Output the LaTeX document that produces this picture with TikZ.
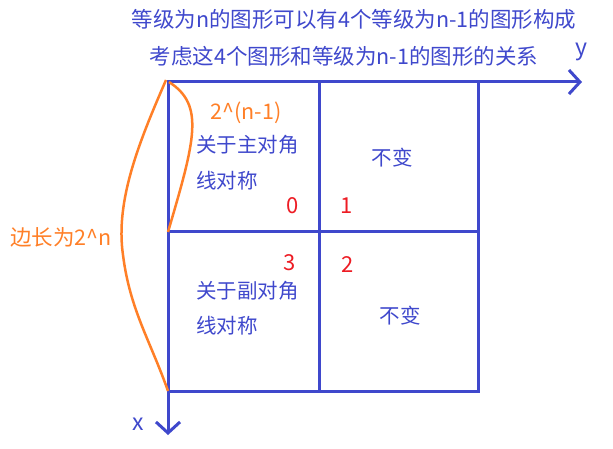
\documentclass[tikz,border=0pt]{standalone}
\usepackage{fontspec}
\setmainfont{Noto Sans CJK SC}
\usetikzlibrary{arrows.meta}
\definecolor{gblue}{RGB}{63,72,204}
\definecolor{gorange}{RGB}{255,127,39}
\definecolor{gred}{RGB}{237,28,36}
\tikzset{
  grid/.style={draw=gblue,line width=3pt},
  axis/.style={draw=gblue,line width=3pt,-{Straight Barb[length=11pt,width=24pt,line width=3pt]}},
  brace/.style={draw=gorange,line width=2.5pt},
  btxt/.style={text=gblue,font=\fontsize{20.5}{24}\selectfont,inner sep=0pt},
  otxt/.style={text=gorange,font=\fontsize{20.5}{24}\selectfont,inner sep=0pt},
  rtxt/.style={text=gred,font=\fontsize{22}{24}\selectfont,inner sep=0pt},
}
\begin{document}
\begin{tikzpicture}[x=1pt,y=-1pt]
\useasboundingbox (0,0) rectangle (613,449);
\coordinate (O) at (168,82);
\coordinate (TM) at (319,82);
\coordinate (TR) at (478,82);
\coordinate (ML) at (168,232);
\coordinate (MR) at (478,232);
\coordinate (BL) at (168,391);
\coordinate (BM) at (319,391);
\coordinate (BR) at (478,391);
\coordinate (YE) at (582,82);
\coordinate (XE) at (168,435);
% grid
\draw[grid] (O) rectangle (BR);
\draw[grid] (TM) -- (BM);
\draw[grid] (ML) -- (MR);
% axes
\draw[axis] (O) -- (YE);
\draw[axis] (O) -- (XE);
% orange curves
\coordinate (C1) at (166,80);
\coordinate (C2) at (169,82);
\draw[brace] (C1) .. controls (140,140) and (115,200) .. (123,255) .. controls (130,310) and (150,340) .. (BL);
\draw[brace] (C2) .. controls (205,105) and (195,140) .. (ML);
% texts
\node[btxt] (t1) at (354,19) {\fontsize{21.5}{24}\selectfont 等级为n的图形可以有4个等级为n-1的图形构成};
\node[btxt] (t2) at (344,56) {\fontsize{21.5}{24}\selectfont 考虑这4个图形和等级为n-1的图形的关系};
\node[btxt] (ylab) at (581,52) {\fontsize{23}{24}\selectfont y};
\node[btxt] (xlab) at (138,424) {\fontsize{23}{24}\selectfont x};
\node[otxt] (half) at (246,113) {\fontsize{21.5}{24}\selectfont 2\^{}(n-1)};
\node[otxt] (side) at (61,237) {\fontsize{21.5}{24}\selectfont 边长为2\^{}n};
\node[btxt,anchor=west] (a1) at (196,145) {关于主对角};
\node[btxt,anchor=west] (a2) at (196,181) {线对称};
\node[btxt] (b1) at (392,158) {不变};
\node[btxt,anchor=west] (c1) at (196,291) {关于副对角};
\node[btxt,anchor=west] (c2) at (196,326) {线对称};
\node[btxt] (d1) at (400,316) {不变};
\node[rtxt] (n0) at (293,206) {0};
\node[rtxt] (n1) at (347,206) {1};
\node[rtxt] (n3) at (290,263) {3};
\node[rtxt] (n2) at (348,265) {2};
\end{tikzpicture}
\end{document}
